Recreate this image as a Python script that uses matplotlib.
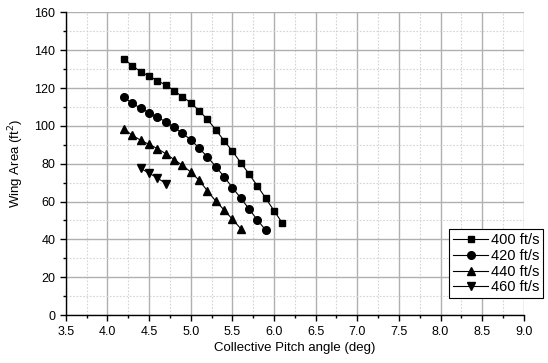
import numpy as np
import matplotlib.pyplot as plt
from matplotlib.ticker import MultipleLocator

plt.rcParams['font.family'] = ['Liberation Sans', 'DejaVu Sans']

# Collective pitch angle (deg) and wing area (ft^2) per flight speed
x_400 = [4.2, 4.3, 4.4, 4.5, 4.6, 4.7, 4.8, 4.9, 5.0, 5.1,
         5.2, 5.3, 5.4, 5.5, 5.6, 5.7, 5.8, 5.9, 6.0, 6.1]
y_400 = [135.2, 131.8, 128.6, 126.3, 123.9, 121.6, 118.6, 115.4, 112.3, 108.0,
         103.5, 98.0, 92.2, 86.7, 80.6, 74.6, 68.3, 61.8, 55.2, 48.6]

x_420 = [4.2, 4.3, 4.4, 4.5, 4.6, 4.7, 4.8, 4.9, 5.0,
         5.1, 5.2, 5.3, 5.4, 5.5, 5.6, 5.7, 5.8, 5.9]
y_420 = [115.1, 111.9, 109.3, 107.0, 104.5, 102.2, 99.2, 96.1, 92.7,
         88.3, 83.6, 78.5, 73.2, 67.4, 61.9, 56.1, 50.3, 44.9]

x_440 = [4.2, 4.3, 4.4, 4.5, 4.6, 4.7, 4.8, 4.9, 5.0, 5.1,
         5.2, 5.3, 5.4, 5.5, 5.6]
y_440 = [98.3, 95.0, 92.4, 90.2, 88.0, 85.3, 82.2, 79.2, 75.6, 71.3,
         65.7, 60.3, 55.6, 50.7, 45.7]

x_460 = [4.4, 4.5, 4.6, 4.7]
y_460 = [77.5, 75.0, 72.5, 69.5]

labels = ['400 ft/s', '420 ft/s', '440 ft/s', '460 ft/s']

fig = plt.figure(figsize=(5.48, 3.63), dpi=100)
ax = fig.add_axes([0.12, 0.132, 0.836, 0.834])

ax.plot(x_400, y_400, '-s', color='black', lw=0.8, ms=5, label=labels[0])
ax.plot(x_420, y_420, '-o', color='black', lw=0.8, ms=5.5, label=labels[1])
ax.plot(x_440, y_440, '-^', color='black', lw=0.8, ms=6, label=labels[2])
ax.plot(x_460, y_460, '-v', color='black', lw=0.8, ms=6, label=labels[3])

ax.set_xlim(3.5, 9.0)
ax.set_ylim(0, 160)
ax.xaxis.set_major_locator(MultipleLocator(0.5))
ax.xaxis.set_minor_locator(MultipleLocator(0.25))
ax.yaxis.set_major_locator(MultipleLocator(20))
ax.yaxis.set_minor_locator(MultipleLocator(10))
ax.xaxis.set_major_formatter(plt.FormatStrFormatter('%.1f'))

ax.grid(which='major', color='#b0b0b0', lw=1.0, ls='-')
ax.grid(which='minor', color='#d4d4d4', lw=0.8, ls=(0, (1.5, 1.5)))
ax.set_axisbelow(True)

for s in ['top', 'right']:
    ax.spines[s].set_visible(False)
ax.spines['left'].set_linewidth(1.0)
ax.spines['bottom'].set_linewidth(1.0)
ax.tick_params(which='major', direction='out', length=4, width=1.0, labelsize=9)
ax.tick_params(which='minor', direction='out', length=2.5, width=1.0)

ax.set_xlabel('Collective Pitch angle (deg)', fontsize=9.5, labelpad=3)
ax.set_ylabel('Wing Area (ft$^2$)', fontsize=9.5, labelpad=6)

leg = ax.legend(loc='lower right', bbox_to_anchor=(0.991, 0.179),
                bbox_transform=fig.transFigure, fontsize=10.5, frameon=True,
                fancybox=False, edgecolor='black', framealpha=1, borderpad=0.25,
                labelspacing=0.12, handlelength=2.4, handletextpad=0.2,
                borderaxespad=0)
leg.get_frame().set_linewidth(0.8)

fig.savefig('out.png', dpi=100)
